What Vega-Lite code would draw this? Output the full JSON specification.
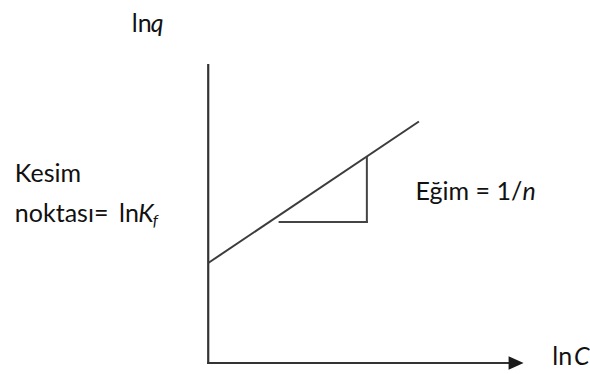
{
  "$schema": "https://vega.github.io/schema/vega-lite/v6.json",
  "width": 590,
  "height": 374,
  "autosize": {"type": "fit", "contains": "padding"},
  "padding": 0,
  "background": "white",
  "config": {"view": {"stroke": null}, "text": {"font": "Lato", "color": "#111111", "align": "left", "baseline": "alphabetic"}},
  "layer": [
    {
      "data": {"values": [
        {"segment": "lnq axis", "x0": 0, "y0": 0, "x1": 0, "y1": 5.96},
        {"segment": "lnC axis", "x0": 0, "y0": 0, "x1": 6.2, "y1": 0}
      ]},
      "mark": {"type": "rule", "stroke": "#333333", "strokeWidth": 2.2, "strokeCap": "square"},
      "encoding": {
        "x": {"field": "x0", "type": "quantitative", "scale": {"domain": [-4.2, 7.6], "nice": false, "zero": false}, "axis": null},
        "y": {"field": "y0", "type": "quantitative", "scale": {"domain": [-0.22, 7.26], "nice": false, "zero": false}, "axis": null},
        "x2": {"field": "x1"},
        "y2": {"field": "y1"}
      }
    },
    {
      "data": {"values": [{"lnC": 6.21, "lnq": 0}]},
      "mark": {"type": "point", "shape": "M1,0L-1,-0.9L-1,0.9Z", "size": 225, "filled": true, "color": "#1a1a1a", "opacity": 1},
      "encoding": {
        "x": {"field": "lnC", "type": "quantitative", "axis": null},
        "y": {"field": "lnq", "type": "quantitative", "axis": null}
      }
    },
    {
      "data": {"values": [
        {"lnC": 0, "lnq": 2.0},
        {"lnC": 4.25, "lnq": 4.83}
      ]},
      "mark": {"type": "line", "stroke": "#3c3c3c", "strokeWidth": 2},
      "encoding": {
        "x": {"field": "lnC", "type": "quantitative", "axis": null},
        "y": {"field": "lnq", "type": "quantitative", "axis": null}
      }
    },
    {
      "data": {"values": [
        {"segment": "run", "x0": 1.44, "y0": 2.82, "x1": 3.2, "y1": 2.82},
        {"segment": "rise", "x0": 3.2, "y0": 2.82, "x1": 3.2, "y1": 4.1}
      ]},
      "mark": {"type": "rule", "stroke": "#444444", "strokeWidth": 2, "strokeCap": "square"},
      "encoding": {
        "x": {"field": "x0", "type": "quantitative", "axis": null},
        "y": {"field": "y0", "type": "quantitative", "axis": null},
        "x2": {"field": "x1"},
        "y2": {"field": "y1"}
      }
    },
    {
      "data": {"values": [
        {"label": "ln", "x": -1.54, "y": 6.62},
        {"label": "Kesim", "x": -3.9, "y": 3.62},
        {"label": "noktası=", "x": -3.9, "y": 2.83},
        {"label": "ln", "x": -1.8, "y": 2.83},
        {"label": "Eğim = 1/", "x": 4.18, "y": 3.26},
        {"label": "ln", "x": 6.94, "y": -0.04}
      ]},
      "mark": {"type": "text", "fontSize": 25},
      "encoding": {
        "x": {"field": "x", "type": "quantitative", "axis": null},
        "y": {"field": "y", "type": "quantitative", "axis": null},
        "text": {"field": "label"}
      }
    },
    {
      "data": {"values": [
        {"label": "q", "x": -1.16, "y": 6.62},
        {"label": "K", "x": -1.41, "y": 2.83},
        {"label": "n", "x": 6.34, "y": 3.26},
        {"label": "C", "x": 7.38, "y": -0.04}
      ]},
      "mark": {"type": "text", "fontSize": 25, "fontStyle": "italic"},
      "encoding": {
        "x": {"field": "x", "type": "quantitative", "axis": null},
        "y": {"field": "y", "type": "quantitative", "axis": null},
        "text": {"field": "label"}
      }
    },
    {
      "data": {"values": [
        {"label": "f", "x": -1.12, "y": 2.74}
      ]},
      "mark": {"type": "text", "fontSize": 16, "fontStyle": "italic"},
      "encoding": {
        "x": {"field": "x", "type": "quantitative", "axis": null},
        "y": {"field": "y", "type": "quantitative", "axis": null},
        "text": {"field": "label"}
      }
    }
  ]
}
